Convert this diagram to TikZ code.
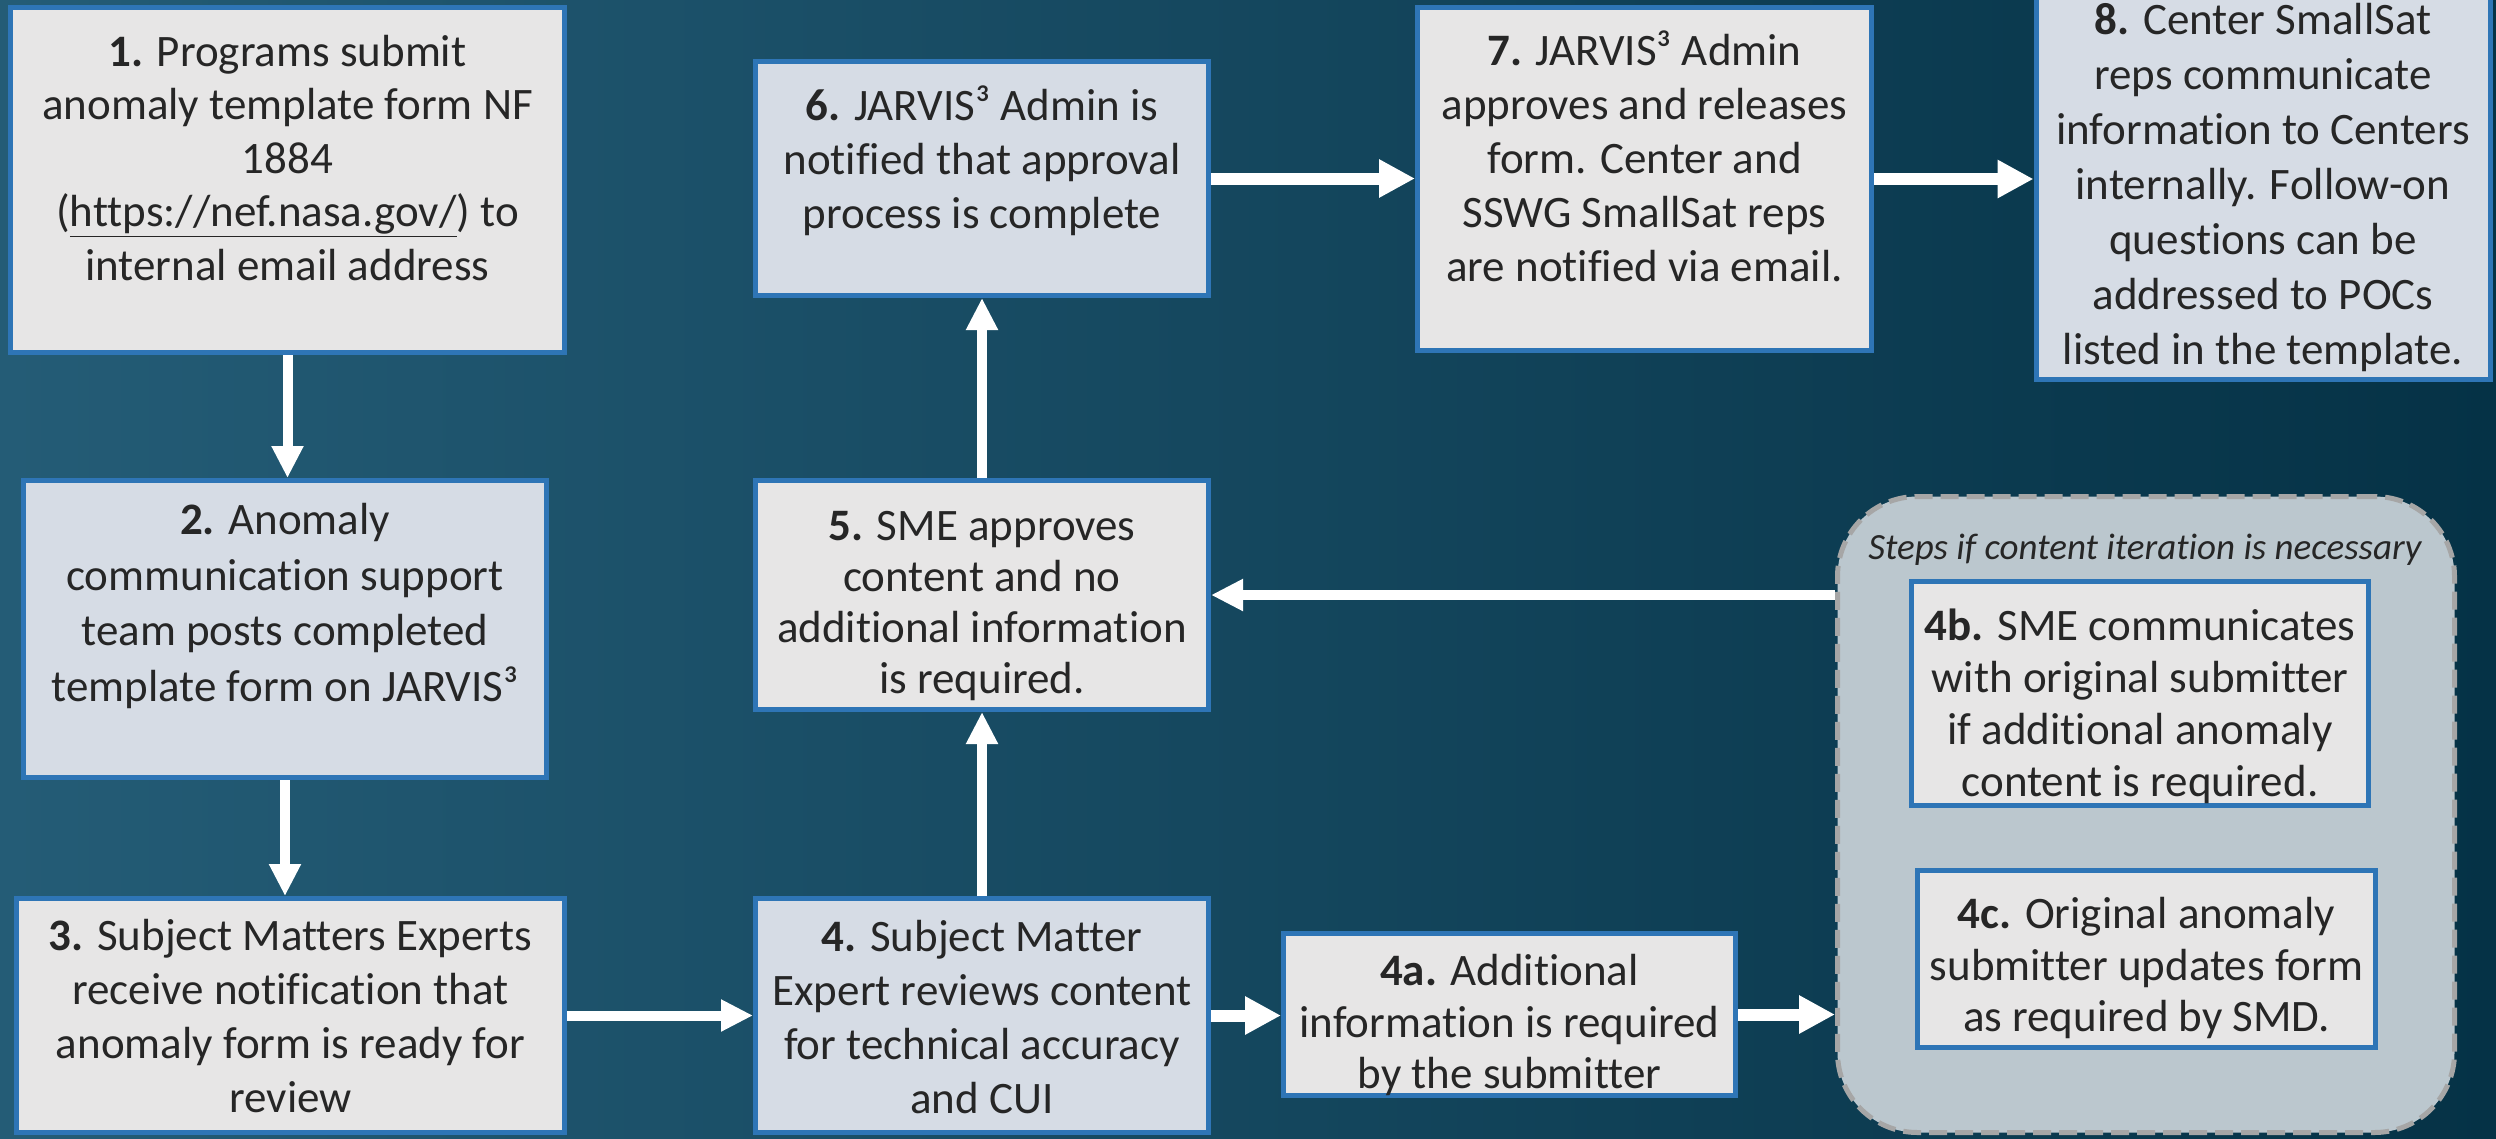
\documentclass[tikz,border=0pt]{standalone}
\usepackage{fontspec}
\setmainfont{Carlito}[Ligatures=NoCommon]
\usetikzlibrary{arrows.meta,calc}
\definecolor{bblue}{RGB}{46,117,182}
\definecolor{gfill}{RGB}{231,230,230}
\definecolor{bfill}{RGB}{214,220,229}
\definecolor{txt}{RGB}{38,38,38}
\definecolor{grpfill}{RGB}{187,199,206}
\definecolor{grpline}{RGB}{166,166,166}
\definecolor{bgL}{RGB}{36,92,118}
\definecolor{bgR}{RGB}{5,50,70}
\tikzset{
 box/.style={draw=bblue, line width=5pt, inner sep=0pt},
 greybox/.style={box, fill=gfill},
 bluebox/.style={box, fill=bfill},
 txtnode/.style={align=center, inner sep=0pt, text=txt},
 arr/.style={draw=white, line width=10pt, -{Triangle[width=30pt,length=32pt]}},
 bigarr/.style={draw=white, line width=12pt, -{Triangle[width=36pt,length=36pt]}},
 fs/.style={font=\fontsize{45}{#1}\selectfont},
}
\begin{document}
\begin{tikzpicture}[x=1pt,y=-1pt]
\useasboundingbox (0,0) rectangle (2496,1138);
\clip (0,0) rectangle (2496,1138);
\shade[left color=bgL, right color=bgR] (0,0) rectangle (2496,1138);

% boxes
\node[greybox, minimum width=554pt, minimum height=345pt] (b1) at (287.5,180) {};
\node[bluebox, minimum width=523pt, minimum height=297pt] (b2) at (285,629) {};
\node[greybox, minimum width=548pt, minimum height=234pt] (b3) at (290.5,1015.5) {};
\node[bluebox, minimum width=453pt, minimum height=234pt] (b4) at (982,1015.5) {};
\node[greybox, minimum width=452pt, minimum height=162pt] (b4a) at (1509.5,1014.5) {};
\node[greybox, minimum width=453pt, minimum height=229pt] (b5) at (982,595) {};
\node[bluebox, minimum width=453pt, minimum height=234pt] (b6) at (982,178.5) {};
\node[greybox, minimum width=454pt, minimum height=343pt] (b7) at (1644.5,179) {};
\node[bluebox, minimum width=454pt, minimum height=407pt] (b8) at (2263,176) {};
\node[draw=grpline, fill=grpfill, line width=5pt, dash pattern=on 18pt off 8pt, rounded corners=80pt, minimum width=617pt, minimum height=636pt] (grp) at (2146,814.5) {};
\node[greybox, minimum width=457pt, minimum height=224pt] (b4b) at (2140,693.5) {};
\node[greybox, minimum width=458pt, minimum height=177pt] (b4c) at (2146.5,959) {};

% texts
\node[txtnode, fs=53.5] (t1) at (287.5,157.75)
 {\textbf{1.} Programs submit\\anomaly template form NF\\1884\\(\underline{https://nef.nasa.gov/}) to\\internal email address};
\node[txtnode, fs=55.5] (t2) at (285,606)
 {\textbf{2.} Anomaly\\communication support\\team posts completed\\template form on JARVIS³};
\node[txtnode, fs=54] (t3) at (290.5,1016.5)
 {\textbf{3.} Subject Matters Experts\\receive notification that\\anomaly form is ready for\\review};
\node[txtnode, fs=54] (t4) at (982,1017)
 {\textbf{4.} Subject Matter\\Expert reviews content\\for technical accuracy\\and CUI};
\node[txtnode, fs=51.5] (t4a) at (1509.5,1025)
 {\textbf{4a.} Additional\\information is required\\by the submitter};
\node[txtnode, fs=51] (t5) at (982,606)
 {\textbf{5.} SME approves\\content and no\\additional information\\is required.};
\node[txtnode, fs=54] (t6) at (982,160.5)
 {\textbf{6.} JARVIS³ Admin is\\notified that approval\\process is complete};
\node[txtnode, fs=54] (t7) at (1644.5,156)
 {\textbf{7.} JARVIS³ Admin\\approves and releases\\form. Center and\\SSWG SmallSat reps\\are notified via email.};
\node[txtnode, fs=55] (t8) at (2263,187.5)
 {\textbf{8.} Center SmallSat\\reps communicate\\information to Centers\\internally. Follow-on\\questions can be\\addressed to POCs\\listed in the template.};
\node[txtnode, font=\fontsize{37}{44}\selectfont\itshape] (lbl) at (2145,550) {Steps if content iteration is necessary};
\node[txtnode, fs=52] (t4b) at (2140,706)
 {\textbf{4b.} SME communicates\\with original submitter\\if additional anomaly\\content is required.};
\node[txtnode, fs=51.5] (t4c) at (2146.5,968)
 {\textbf{4c.} Original anomaly\\submitter updates form\\as required by SMD.};

% connectors
\draw[arr] (b1.south) -- (b1.south |- b2.north);
\draw[arr] (b2.south) -- (b2.south |- b3.north);
\draw[arr] (b3.east) -- (b3.east -| b4.west);
\draw[arr] (b4.north) -- (b5.south);
\draw[arr] (b5.north) -- (b6.south);
\draw[bigarr] (b6.east) -- (b6.east -| b7.west);
\draw[bigarr] (b7.east) -- (b7.east -| b8.west);
\draw[bigarr] (b4.east) -- (b4.east -| b4a.west);
\draw[bigarr] (b4a.east) -- (b4a.east -| grp.west);
\draw[arr] (grp.west |- b5.east) -- (b5.east);
\end{tikzpicture}
\end{document}
